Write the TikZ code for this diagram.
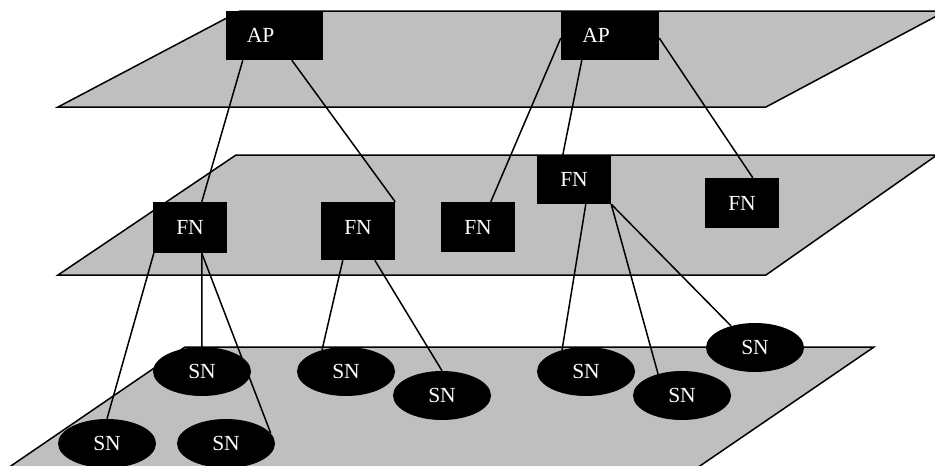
\documentclass[tikz,border=0pt]{standalone}
\usepackage{fontspec}
\setmainfont{Liberation Serif}
\usetikzlibrary{shapes.geometric}

\tikzset{
  plane/.style={draw=black, line width=1.5pt, fill=black!25, line join=miter},
  boxnode/.style={draw=none, fill=black, inner sep=0pt, text=white,
    font=\fontsize{21.5}{24}\selectfont},
  snnode/.style={ellipse, draw=none, fill=black, inner sep=0pt,
    minimum width=98pt, minimum height=49pt, text=white,
    font=\fontsize{21.5}{24}\selectfont},
  lbl/.style={text=white, inner sep=0pt, font=\fontsize{21.5}{24}\selectfont},
  link/.style={draw=black, line width=1.5pt}
}

\begin{document}
\begin{tikzpicture}[x=1pt, y=-1pt]
  \useasboundingbox (0,0) rectangle (935,466);

  % the three layers
  \draw[plane] (58,107) -- (766,107) -- (946,11) -- (240,11) -- cycle;
  \draw[plane] (58,275) -- (766,275) -- (937,155) -- (236,155) -- cycle;
  \draw[plane] (5,470) -- (694,470) -- (874,347) -- (185,347) -- cycle;

  % access points
  \node[boxnode, minimum width=97pt, minimum height=49pt,
        label={[lbl, xshift=-14pt]center:AP}] (ap1) at (274.5,35.5) {};
  \node[boxnode, minimum width=98pt, minimum height=49pt,
        label={[lbl, xshift=-14pt]center:AP}] (ap2) at (610,35.5) {};

  % forwarding nodes
  \node[boxnode, minimum width=74pt, minimum height=51pt] (fn1) at (190,227.5) {FN};
  \node[boxnode, minimum width=74pt, minimum height=58pt,
        label={[lbl, yshift=4pt]center:FN}] (fn2) at (358,231) {};
  \node[boxnode, minimum width=74pt, minimum height=50pt] (fn3) at (478,227) {FN};
  \node[boxnode, minimum width=74pt, minimum height=49pt] (fn4) at (574,179.5) {FN};
  \node[boxnode, minimum width=74pt, minimum height=50pt] (fn5) at (742,203) {FN};

  % sensor nodes
  \node[snnode] (sn1) at (202,371.5) {SN};
  \node[snnode] (sn2) at (107,443.5) {SN};
  \node[snnode] (sn3) at (226,443.5) {SN};
  \node[snnode] (sn4) at (346,371.5) {SN};
  \node[snnode] (sn5) at (442,395.5) {SN};
  \node[snnode] (sn6) at (586,371.5) {SN};
  \node[snnode] (sn7) at (682,395.5) {SN};
  \node[snnode] (sn8) at (755,347.5) {SN};

  % access point to forwarding node links
  \draw[link] ([xshift=17pt]ap1.south west) -- ([xshift=49pt]fn1.north west);
  \draw[link] ([xshift=66pt]ap1.south west) -- (fn2.north east);
  \draw[link] ([yshift=-2.5pt]ap2.west) -- ([xshift=50pt]fn3.north west);
  \draw[link] ([xshift=21pt]ap2.south west) -- ([xshift=26pt]fn4.north west);
  \draw[link] ([yshift=-2.5pt]ap2.east) -- ([xshift=48pt]fn5.north west);

  % forwarding node to sensor node links
  \draw[link] ([xshift=1pt]fn1.south west) -- (sn2.north);
  \draw[link] ([xshift=49pt]fn1.south west) -- (sn1.north);
  \draw[link] ([xshift=49pt]fn1.south west) -- (sn3.13);
  \draw[link] ([xshift=22pt]fn2.south west) -- (sn4.138);
  \draw[link] ([xshift=54pt]fn2.south west) -- (sn5.north);
  \draw[link] ([xshift=49pt]fn4.south west) -- (sn6.138);
  \draw[link] (fn4.south east) -- (sn7.138);
  \draw[link] (fn4.south east) -- (sn8.138);
\end{tikzpicture}
\end{document}
